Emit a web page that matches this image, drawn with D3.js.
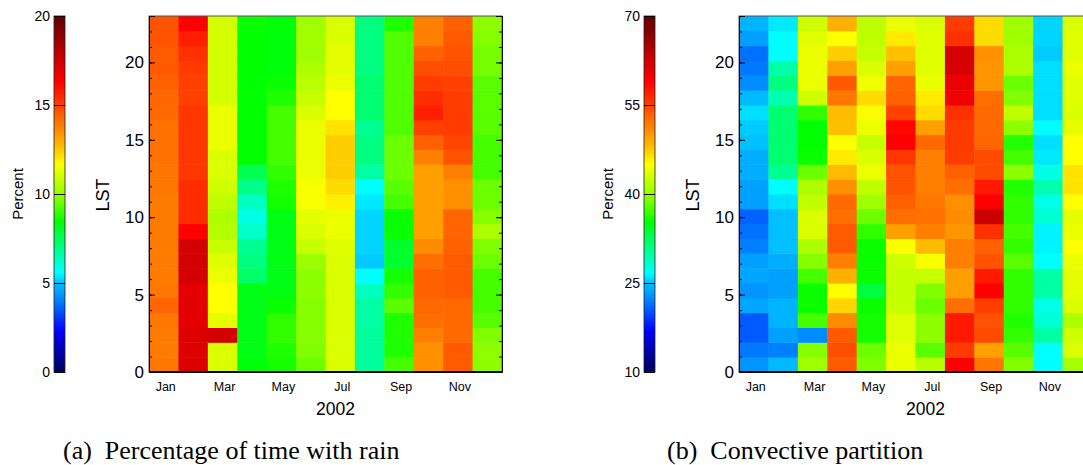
<!DOCTYPE html>
<html>
<head>
<meta charset="utf-8">
<script src="https://cdn.jsdelivr.net/npm/d3@7"></script>
<style>
  body { margin: 0; background: #fff; }
  text { font-family: "Liberation Sans", Arial, sans-serif; fill: #000; }
  .cap { font-family: "Liberation Serif", "Times New Roman", serif; white-space: pre; }
</style>
</head>
<body>
<div id="chart"></div>
<script>
var months = ["Jan","Feb","Mar","Apr","May","Jun","Jul","Aug","Sep","Oct","Nov","Dec"];
var monthTicks = ["Jan","Mar","May","Jul","Sep","Nov"];
var hours = d3.range(0, 24);
var lstTicks = [0, 5, 10, 15, 20];

// percentage of time with rain, one list per month, LST 0..23
var rain = [
  [14.0,13.9,13.9,14.0,14.4,14.0,13.9,13.9,13.9,13.9,13.9,13.9,14.0,14.0,14.1,14.1,14.1,14.3,14.4,14.5,14.6,14.6,14.7,14.7],
  [17.2,17.2,17.2,17.0,17.0,17.0,17.4,17.4,17.4,16.3,15.4,15.4,15.4,15.2,15.2,15.2,15.2,15.2,15.0,15.0,15.1,15.3,15.7,16.3],
  [11.1,11.1,17.4,11.3,11.7,11.7,11.4,11.2,10.8,10.5,10.4,10.7,10.9,11.1,11.1,11.4,11.4,11.4,11.0,11.0,11.0,11.0,11.0,11.0],
  [8.3,8.2,8.2,8.2,8.2,8.2,7.3,7.0,6.8,6.2,5.9,6.3,6.9,7.6,8.4,8.4,8.4,8.4,8.4,8.4,8.4,8.4,8.4,8.5],
  [8.6,8.7,8.9,8.9,8.5,8.2,8.2,8.2,8.2,8.2,8.2,8.6,8.7,8.9,9.1,9.1,9.1,9.1,8.7,8.5,8.3,8.3,8.3,8.3],
  [9.5,9.7,9.8,9.8,9.8,9.9,9.9,10.1,10.8,11.1,11.3,11.6,11.6,11.4,11.4,11.4,11.4,11.1,10.8,10.6,10.4,10.2,10.2,10.2],
  [11.1,11.1,11.1,11.1,11.1,11.1,11.1,11.1,11.2,11.4,11.4,11.9,12.2,12.4,12.4,12.4,12.1,11.7,11.7,11.4,11.3,11.3,11.1,11.1],
  [6.7,6.7,6.7,6.6,6.6,6.3,5.6,5.1,5.2,5.2,5.2,5.4,5.6,6.6,7.0,7.0,6.8,7.2,7.2,7.2,7.0,7.0,7.0,7.0],
  [9.1,8.7,8.7,8.7,9.3,8.9,8.6,8.0,8.0,8.5,8.5,9.1,9.3,9.5,9.5,9.5,9.2,9.2,9.2,9.2,9.2,9.2,9.2,8.7],
  [13.5,13.5,13.8,14.2,14.3,14.5,14.5,14.2,13.6,13.2,13.2,13.2,13.2,13.2,13.8,14.5,15.0,15.7,15.4,15.1,14.8,14.5,13.8,13.8],
  [14.6,14.6,14.3,14.3,14.3,14.6,14.6,14.6,14.5,14.4,14.4,13.5,13.5,13.8,14.7,14.9,15.1,15.1,15.1,15.0,14.8,14.7,14.6,14.5],
  [9.9,9.9,9.7,9.3,9.1,9.1,9.1,9.5,9.7,10.4,9.8,9.5,9.5,9.1,9.1,9.1,9.3,9.3,9.3,9.3,9.6,9.6,9.8,9.9]
];

// convective partition, one list per month, LST 0..23
var conv = [
  [23,21.7,20.5,20.5,23.8,23.0,23.8,23.5,22,21.4,20.8,23.5,23.5,24.1,24.1,25,25.3,25.9,24.7,22.6,21.7,21.4,23.5,24.4],
  [24.7,22,23.5,24.4,24.4,23.5,23.5,24.1,25,25,25,25.9,26.8,30.4,31.6,31.6,31.6,31.6,29.5,31,29.8,26.8,26.8,26.2],
  [40.6,39.4,22.6,37.3,35.5,35.5,37.3,39.4,41.2,43.3,43.3,42.1,41.2,38.5,35.5,35.2,35.2,36.7,42.7,44.2,44.2,44.2,43.6,42.7],
  [53.8,54.4,53.8,50.8,46.9,45.1,48.7,51.4,53.8,53.8,52.6,52.9,50.5,48.1,46,45.1,47.8,48.1,52,53.8,49.6,47.2,45.1,48.7],
  [39.1,38.5,35.8,35.8,35.5,33.4,35.5,35.5,35.5,36.7,38.5,40.6,42.1,44.2,43.3,42.4,44.2,44.8,46.6,44.5,43.3,42.4,42.1,42.1],
  [44.2,44.2,43.6,43.6,42.4,42.4,42.4,42.7,45.1,49.6,52.6,53.5,54.1,54.1,55.6,59,58.6,55,53.5,53.2,49.6,47.8,46,44.2],
  [41.8,37.9,39.7,39.7,38.5,39.1,42.4,44.8,48.1,51.4,52.3,52,51.4,51.4,51.4,52.9,49.6,46.6,46,44.2,43.6,43.6,43.6,43.3],
  [59,55.3,57.4,57.4,52.6,49.6,49.6,51.4,51.4,50.2,50.8,50.5,52.6,53.5,55.2,55.3,55.3,56,60.2,60.4,62,62.2,56,55.3],
  [52,49.6,54.5,54.1,55.2,59,57.4,54.1,53.5,56,62.8,59,57.4,54.5,54.5,53.2,52.9,52.9,52.6,50.2,50.2,50.5,46.6,46.6],
  [39.1,37.9,36.7,36.2,36.7,36.7,36.7,37.9,36.7,37.3,36.7,36.7,36.2,39.7,37.3,36.2,39.7,42.1,39.1,38.5,41.2,41.2,40.6,40.6],
  [26.8,26.8,29.8,28.3,27.7,29.8,29.8,26.8,26.5,26.5,28.3,27.7,29.5,27.7,26.2,25.9,26.8,25.9,25.9,25.9,25.9,25.3,25.6,25.6],
  [40.9,43.3,42.7,41.2,43.3,43.9,43.9,44.2,45.1,44.2,43.9,45.1,46.3,46.3,45.1,45.1,43.9,43.3,43.6,43.6,44.2,43.6,43.6,43.3]
];

var rainTicks = [0, 5, 10, 15, 20];
var convTicks = [10, 25, 40, 55, 70];

// colour table (fraction of bar, colour)
var ctab = [
  [0, "#00005a"], [0.115, "#0000ff"], [0.2, "#0080ff"], [0.25, "#00c0ff"], [0.28, "#00ffff"],
  [0.315, "#00ffc0"], [0.35, "#00ff80"], [0.39, "#00ff40"], [0.42, "#00ff00"], [0.485, "#80ff00"],
  [0.535, "#c0ff00"], [0.585, "#ffff00"], [0.63, "#ffc000"], [0.69, "#ff8000"], [0.725, "#ff6000"],
  [0.75, "#ff4000"], [0.815, "#ff0000"], [0.875, "#d00000"], [1, "#600000"]
];

var W = 1083, H = 465;
var plotTop = 16, plotBot = 372, plotW = 353;

var svg = d3.select("#chart").append("svg")
  .attr("width", W).attr("height", H);

var defs = svg.append("defs");

function panel(id, data, ticks, plotX, barX, caption, capX) {
  var lo = ticks[0], hi = ticks[ticks.length - 1];
  var color = d3.scaleLinear()
    .domain(ctab.map(function(c){ return lo + c[0] * (hi - lo); }))
    .range(ctab.map(function(c){ return c[1]; }))
    .clamp(true);

  var x = d3.scaleBand().domain(months).range([plotX, plotX + plotW]);
  var yRow = d3.scaleBand().domain(hours).range([plotBot, plotTop]);
  var y = d3.scaleLinear().domain([0, 23]).range([plotBot, plotTop]);

  var g = svg.append("g");

  var cells = [];
  data.forEach(function(col, i){
    col.forEach(function(v, h){ cells.push({m: months[i], h: h, v: v}); });
  });

  g.selectAll("rect.cell").data(cells).enter().append("rect")
    .attr("class", "cell")
    .attr("x", function(d){ return x(d.m); })
    .attr("y", function(d){ return yRow(d.h); })
    .attr("width", x.bandwidth() + 0.5)
    .attr("height", yRow.bandwidth() + 0.5)
    .attr("fill", function(d){ return color(d.v); });

  // frame
  g.append("rect")
    .attr("x", plotX).attr("y", plotTop).attr("width", plotW).attr("height", plotBot - plotTop)
    .attr("fill", "none").attr("stroke", "#555").attr("stroke-width", 1);
  g.append("line").attr("x1", plotX).attr("x2", plotX + plotW)
    .attr("y1", plotBot).attr("y2", plotBot).attr("stroke", "#000").attr("stroke-width", 2);

  // y axis, ticks inward
  var yl = g.append("g").attr("transform", "translate(" + plotX + ",0)")
    .call(d3.axisLeft(y).tickValues(lstTicks).tickSize(-6).tickPadding(5));
  yl.select(".domain").attr("stroke", "#000");
  yl.selectAll("text").style("font-size", "17px");
  g.append("g").attr("transform", "translate(" + plotX + ",0)")
    .call(d3.axisLeft(y).tickValues(hours).tickSize(-3).tickFormat(""))
    .select(".domain").remove();
  var yr = g.append("g").attr("transform", "translate(" + (plotX + plotW) + ",0)")
    .call(d3.axisRight(y).tickValues(lstTicks).tickSize(-6).tickFormat(""));
  yr.select(".domain").attr("stroke", "#000");
  g.append("g").attr("transform", "translate(" + (plotX + plotW) + ",0)")
    .call(d3.axisRight(y).tickValues(hours).tickSize(-3).tickFormat(""))
    .select(".domain").remove();

  // month labels
  var xa = g.append("g").attr("transform", "translate(0," + plotBot + ")")
    .call(d3.axisBottom(x).tickValues(monthTicks).tickSize(0).tickPadding(10));
  xa.select(".domain").remove();
  xa.selectAll("text").style("font-size", "12.5px").attr("dx", 2);

  g.append("text").attr("x", plotX + plotW / 2 + 10).attr("y", 415)
    .attr("text-anchor", "middle").style("font-size", "17.5px").text("2002");
  g.append("text").attr("transform", "translate(" + (plotX - 40) + ",195) rotate(-90)")
    .attr("text-anchor", "middle").style("font-size", "18px").text("LST");

  // colour bar
  var cb = d3.scaleLinear().domain([lo, hi]).range([plotBot, plotTop]);
  var grad = defs.append("linearGradient").attr("id", "grad" + id)
    .attr("x1", 0).attr("y1", 1).attr("x2", 0).attr("y2", 0);
  grad.selectAll("stop").data(ctab).enter().append("stop")
    .attr("offset", function(c){ return c[0]; })
    .attr("stop-color", function(c){ return c[1]; });
  g.append("rect").attr("x", barX).attr("y", plotTop).attr("width", 11).attr("height", plotBot - plotTop)
    .attr("fill", "url(#grad" + id + ")").attr("stroke", "#222").attr("stroke-width", 0.8);
  var ca = g.append("g").attr("transform", "translate(" + barX + ",0)")
    .call(d3.axisLeft(cb).tickValues(ticks).tickSize(-11).tickPadding(4));
  ca.select(".domain").remove();
  ca.selectAll("text").style("font-size", "14px");
  g.append("text").attr("transform", "translate(" + (barX - 31) + ",194) rotate(-90)")
    .attr("text-anchor", "middle").style("font-size", "15px").text("Percent");

  svg.append("text").attr("class", "cap").attr("x", capX).attr("y", 459)
    .style("font-size", "26px").text(caption);
}

panel("a", rain, rainTicks, 149, 54, "(a)  Percentage of time with rain", 63);
panel("b", conv, convTicks, 739, 644, "(b)  Convective partition", 667);
</script>
</body>
</html>
